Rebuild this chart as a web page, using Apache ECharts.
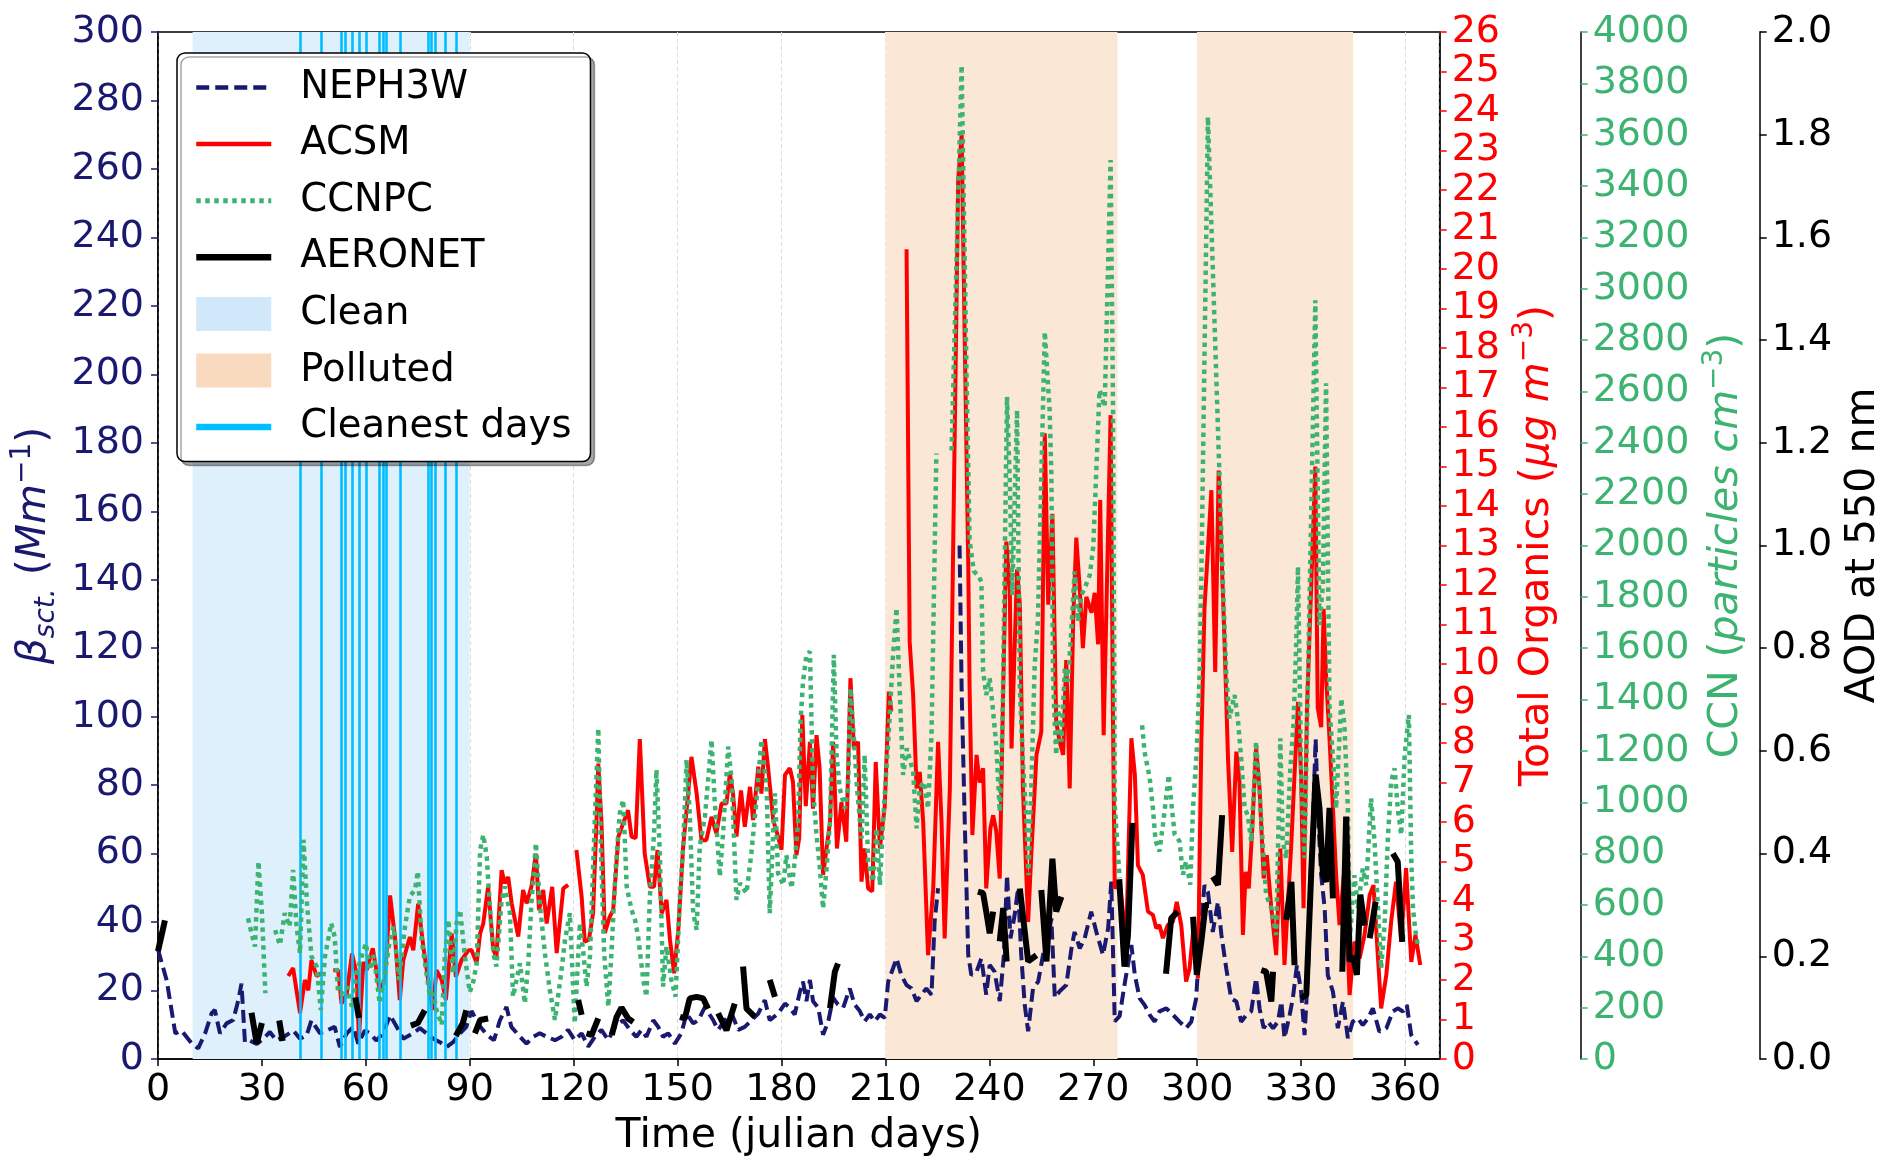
<!DOCTYPE html>
<html>
<head>
<meta charset="utf-8">
<script src="https://cdn.jsdelivr.net/npm/echarts@6/dist/echarts.min.js"></script>
<style>
html,body{margin:0;padding:0;background:#fff;}
#chart{width:1892px;height:1174px;}
</style>
</head>
<body>
<div id="chart"></div>
<script>
// ---------- DATA ----------
// NEPH3W scattering (Mm^-1), [julian day, value]; null = data gap
const nephData = [[0,32],[2.5,23],[5,7.5],[6.8,8.3],[9.7,4.6],[11.6,3.1],[13.6,7.5],[15.5,13.4],[16.4,14.3],[17.9,7.5],[19.8,10.4],[21.7,11.4],[23.2,17.2],[24.1,22],[25.1,4.9],[26.5,5.4],[28.5,4.4],[30.4,5.9],[32.3,7.9],[34.2,5.4],[36.2,6.4],[39.1,8.3],[41,5.9],[42.9,6.9],[44.3,11.3],[46.8,7.5],[48.7,8.3],[51,9.4],[52.5,3.5],[54.5,7.5],[56.4,9.4],[57.8,4.5],[59.7,8.3],[61.2,7.5],[63,5.4],[65,7.5],[67,12.8],[68.9,9.4],[70.8,5.9],[73.7,7.5],[75.6,9],[77.5,7.5],[79.5,5.9],[81.4,4.9],[83.3,3.5],[85.2,4.9],[87.2,7.5],[89,9.4],[90.5,14],[93,9.5],[95,7],[97,5.5],[98.7,11.3],[100.6,15.2],[102,9.4],[104.5,6.5],[106.4,4.5],[108.3,6.5],[110.2,7.5],[112.2,6.5],[114.6,5.5],[116.5,6.5],[118.4,8.5],[120.3,5.5],[122.3,7.5],[124.2,3.6],[126.1,6.5],[128,8.5],[130,5.5],[131.9,9.4],[134.3,11.3],[136.2,8.5],[138.1,6.5],[139.6,8.5],[141,6.5],[143,11.3],[144.4,9.4],[145.8,6.5],[147.3,7.5],[149.2,4.5],[151.1,7.5],[152.6,13.3],[154.5,10.4],[156,11.3],[157.9,15.2],[160.3,11.3],[161.7,8.5],[163.6,11.3],[165.6,13.3],[167.5,8.5],[169.4,9.4],[171.3,11.3],[173.3,13.3],[175.2,17.2],[176.6,11.3],[179,13.3],[181,16.2],[182.4,15],[183.8,13],[185.3,19.6],[186.2,22.6],[187.2,16.9],[188.2,23.1],[189.1,16.9],[190.6,15],[192,7.1],[193.5,11],[194.9,17.9],[196.3,15.9],[197.8,15],[199.7,20.6],[201.1,15.9],[202.6,14],[204,11],[205.5,13],[206.9,11],[208.4,13],[209.8,12],[210.8,22.6],[212.2,26.5],[213.2,29.4],[214.6,24.5],[216.1,21.6],[217.5,20.6],[219,16.9],[220.4,18.8],[221.8,20.6],[223.3,18.8],[224.2,40.1],[225.2,49.9],null,[231.4,150],[232,108],[232.9,69.3],[233.9,30.4],[234.8,24.5],[236.3,25.5],[237.7,29.4],[239.1,18.8],[240.1,27.5],[241.5,25.5],[243,16.9],[244.2,30.4],[245.1,53.7],[246.1,35.2],[247.3,42],[248.3,49.9],[249.2,30.4],[250.2,15.9],[251.2,8.1],[252.6,20.6],[254.1,22.6],[255.5,30.4],[256.9,35.2],[257.9,41.1],[258.9,17.9],[260.3,19.8],[262.2,21.6],[263.7,32.3],[264.6,37.1],[266.1,32.3],[267.5,35.2],[269.4,43],[270.9,37.1],[272.8,30.4],[274.3,38.2],[275.2,51.8],[276.2,11],[277.6,12.5],[279,21.6],[281,33.3],[282,24.5],[283.4,17.7],[284.8,15.8],[286.3,12.9],[287.7,10.9],[289.1,13.9],[291.1,14.8],[293,12.9],[294.9,10.9],[296.8,9],[298.3,10.9],[299.7,17.7],[300.7,34.3],[302.1,50.8],[303.1,48.8],[304.5,37.1],[306,45.9],[307,36.2],[308.4,26.4],[309.8,17.7],[311.3,16.8],[312.7,10.9],[314.2,12.9],[315.6,13.9],[317,23.6],[318,14.8],[319.2,9],[320.4,10.9],[321.9,9],[323.3,10.9],[324.3,16.8],[325.2,6.1],[326.7,12.9],[327.6,17.7],[328.8,27.4],[330,19.6],[331,7],[332,25.5],[332.9,53.7],[334.2,93.5],[334.8,73.1],[335.8,53.7],[336.8,44],[337.7,24.5],[339.2,19.6],[340.6,9],[342.1,16.8],[343.5,6.1],[344.9,10.9],[346.4,11.9],[347.8,9.9],[349.3,11.9],[350.7,14.8],[352.6,8],[354.6,9],[356.5,13.9],[357.9,14.8],[359.4,13.9],[360.5,15.8],[361.8,7],[363.7,4.1]];

// ACSM total organics (ug m^-3)
const acsmData = [[37.6,2.1],[39,2.3],[41,1.16],[42.4,2.0],[43.4,1.74],[44.3,2.5],[45.8,2.1],[47.2,2.17],null,[50.6,2.25],[52,2.25],[53,1.4],[54.5,1.66],[56,2.67],[57.3,2.17],[58,0.52],[59.3,2.46],[60.2,2.25],[62,2.8],[64,1.74],[65.5,2.0],[67,4.14],[68.4,3.09],[69.8,1.49],[70.8,2.5],[72.7,3.09],[73.7,2.75],[75.1,3.93],[76.6,2.84],[78,2.0],[79.3,1.24],[80.4,2.25],[81.9,2.0],[83.1,1.49],[84.8,3.17],[86,2.08],[87.6,2.5],[89.6,2.75],[90.5,2.76],[92,2.43],[93,3.18],[93.9,3.43],[95.3,4.36],[96.8,2.76],[97.7,2.59],[99.2,4.78],[100.1,4.45],[101.1,4.61],[102.1,3.94],[104,3.1],[105.4,4.28],[106.4,3.94],[107.8,4.36],[109.1,5.2],[110,3.77],[111.2,4.28],[112.2,3.43],[113.8,4.36],[115.1,2.68],[117,4.32],[118.4,4.41],null,[120.8,5.29],[122.3,4.11],[123.2,2.97],[124.4,3.02],[125.6,3.69],[126.6,6.05],[127.1,7.48],[128,6.05],[129,3.19],[130.4,3.6],[131.4,3.77],[132.9,5.63],[134.3,5.97],[135.7,6.3],[136.7,5.63],[137.9,5.59],[139.1,8.1],[140.5,5.2],[142,4.36],[143.2,4.36],[144.2,5.29],[145.4,3.69],[146.8,4.03],[147.8,3.02],[149,2.17],[150.2,3.27],[151.6,5.37],[152.6,6.3],[154,7.65],[155.5,6.72],[156.9,5.54],[158.3,5.54],[159.8,6.13],[161.2,5.71],[162.7,6.47],[164.1,6.47],[165.1,7.23],[166,6.72],[167,5.63],[168.3,6.8],[169.4,5.88],[170.9,6.89],[171.8,6.05],[173.3,7.4],[174.2,6.72],[175.2,8.1],[176.1,7.4],[177.6,6.05],[179,5.63],[180,5.3],[181,7.19],[182.4,7.36],[183.3,7.02],[184.3,5.16],[185.1,5.59],[186,8.71],[187,6.4],[188.2,8.03],[189.1,6.34],[190.1,8.2],[191,7.36],[192,4.66],[193,5.33],[194,6.0],[194.9,8.03],[196,5.33],[197.3,6.5],[198.7,5.5],[199.9,9.64],[200.9,7.86],[202.1,8.03],[203.1,4.49],[204,5.33],[205,4.32],[206.2,4.24],[207.2,7.52],[208.4,5.33],[209.8,6.4],[211,9.3],[211.7,8.8],null,[216.1,20.5],[217,10.56],[218,9.21],[219,6.85],[219.9,7.27],[220.9,6.0],[222.3,2.63],[223.8,4.32],[225.2,8.03],[226.2,6.0],[227.1,3.05],[228.6,6.85],[231,22.25],[232,23.4],[232.9,18.2],[233.9,12.6],[234.3,9.38],[235.1,5.67],[236.3,7.7],[237.2,7.0],[238.2,7.36],[239.1,4.32],[240.3,5.84],[241.1,6.17],[242,5.76],[243,4.57],[244,9.38],[244.9,13.1],[245.9,11.9],[246.4,7.86],[248,12.4],[248.8,11.5],[249.7,6.85],[251.2,3.47],[252.1,5.16],[253.6,7.7],[255,8.29],[256,15.84],[257,11.5],[258.2,13.8],[259.3,8.54],[260.3,8.03],[261.3,7.7],[262.2,10.1],[263.2,6.85],[264.2,11.1],[265.1,13.2],[266.1,11.9],[267,10.4],[268,11.7],[269.5,11.3],[270.4,11.8],[271.4,10.5],[272,14.15],[273,8.2],[275,16.3],[275.7,8.54],[276.2,4.32],[277.6,4.49],[279.5,3.0],[281,8.12],[282,7.2],[282.9,4.9],[284.3,4.66],[285.8,3.73],[287.2,3.65],[288.2,3.31],[289.1,3.39],[290.1,3.06],[291.5,3.39],[293,3.48],[294.1,3.98],[295.4,3.39],[296.8,1.96],[297.8,2.29],[299,3.39],[300.2,2.04],[301.2,8.03],[302.1,11.4],[304.1,14.4],[305.2,9.8],[306.2,14.9],[307.9,10.56],[308.9,7.6],[310.1,5.24],[311.3,7.78],[312.2,7.02],[313.2,3.14],[314,4.74],[314.9,4.32],[315.9,5.84],[317,7.87],[318,6.85],[319.2,4.57],[320.1,5.16],[321.4,3.82],[322.8,2.63],[324,5.33],[325.2,2.38],[326.2,3.98],[327.1,5.33],[328.1,7.19],[329.1,9.04],[330,7.19],[330.7,3.82],[331.7,8.88],[334.1,15.0],[334.8,8.88],[335.8,8.4],[336.5,11.4],[337.2,9.7],[338,8.45],[339.2,6.34],[340.1,4.66],[341.1,3.39],[342.5,4.83],[344,1.62],[345.4,2.97],[346.9,2.55],[348.3,3.14],[349.8,4.15],[350.9,4.4],[351.9,2.97],[353.1,1.28],[354.6,2.13],[356,3.48],[357.4,4.49],[358.9,2.97],[360.3,4.83],[361.8,2.46],[363,3.14],[364.4,2.38]];

// CCNPC (particles cm^-3)
const ccnData = [[26,548],[27,490],[28,438],[29,769],[30,568],[31,256],null,[33.8,502],[35.2,444],[36.6,568],[38,516],[39,737],[40,516],[41,412],[42,854],[43,607],[44.3,399],[45.8,360],[47,191],[48.2,399],[50,529],[51,477],[52,256],[53,256],[54.5,282],[56,204],[57.3,334],[58.8,399],[60,451],[61.2,347],[62.3,405],[64,217],[65.5,334],[66.8,451],[68,516],[69.6,308],[71.3,516],[72.7,633],[74.2,659],[75,731],[76.1,464],[77.5,334],[78.5,243],[79.5,256],[80.4,191],[81.9,133],[82.8,399],[83.8,542],[85.2,334],[86.2,529],[87.2,581],[88.6,399],[90,260],[91,300],[92,373],[93,815],[93.9,873],[94.9,789],[95.8,594],[96.8,412],[97.7,360],[99.2,620],[100.1,672],[101.6,568],[102.5,243],[103.5,308],[104.5,373],[105.9,217],[106.9,373],[107.8,607],[109.1,841],[110.2,607],[111.7,412],[113.1,269],[114.6,152],[116.5,347],[117.5,464],[118.9,568],[120.3,139],[121.8,529],[122.8,412],[123.7,282],[124.7,399],[126.1,931],[127.1,1288],[127.9,802],[128.8,412],[130,204],[130.9,412],[132.1,737],[133.3,957],[134.3,1009],[135.3,672],[136.7,581],[137.7,542],[138.6,477],[140.1,308],[141,243],[142,633],[143.2,880],[143.9,1126],[144.9,789],[145.8,282],[146.8,438],[148.2,308],[149.4,243],[150.6,607],[151.6,828],[152.6,1165],[153.5,957],[154.5,568],[155.5,503],[156.4,828],[157.9,945],[159.8,1243],[160.7,1009],[162.2,711],[163.2,893],[164.6,1217],[165.6,1087],[167,620],[168,685],[169.9,646],[171.3,802],[172.8,1009],[174.2,1243],[175.7,1061],[176.6,568],[178.1,1035],[179,724],[180.5,678],[181.4,794],[182.9,665],[183.8,769],[184.8,924],[185.5,1313],[186.2,1469],[187.2,1574],[188.2,1587],[189.1,1054],[190.1,872],[191,755],[192,586],[193,742],[194,924],[195.1,1574],[195.9,1184],[196.8,1054],[198.3,976],[199.2,1054],[199.9,1443],[200.9,1249],[201.8,1054],[203.1,859],[204,1184],[205,769],[206.4,690],[207.4,898],[208.4,678],[209.3,924],[210.8,1236],[212.2,1574],[213.2,1756],[213.9,1509],[215.1,1106],[216.2,1210],[218,1119],[219,898],[219.9,1054],[221.1,1080],[222.3,976],[223.3,1262],[224.7,2358],null,[229.1,2370],[232,3870],[233.4,2671],[234.3,2021],[235.5,1900],[237,1880],[237.7,1857],[238.2,1509],[239.1,1418],[240.1,1483],[241,1366],[242,1223],[243,963],[243.8,1313],[245.1,2579],[245.9,2254],[246.6,1807],[248,2527],[248.8,1443],[249.7,1158],[250.7,924],[251.3,716],[252.1,1054],[253.1,1535],[254,1704],[256,2832],[257.4,2527],[257.9,2280],[258.4,1469],[259.3,1184],[259.8,1379],[260.8,1236],[261.8,1522],[262.7,1469],[263.7,1678],[264.6,1899],[265.6,1704],[266.6,1808],[267.5,1833],[269,1885],[270,1995],[271.8,2605],[273.3,2540],[275,3501],[275.7,2540],[276.2,987],[277.6,704],null,[284.1,1300],[284.8,1197],[286.3,1093],[287.2,978],[288,848],[289.1,808],[290.1,912],[291.8,1106],[292.5,1003],[293.5,874],[294.9,848],[295.9,718],[296.8,770],[298,679],[298.8,978],[299.9,1210],[300.7,1495],[301.2,1878],[303.1,3669],[307.4,1865],[308.4,1495],[309.3,1327],[310.8,1418],[311.8,1314],[312.7,1171],[313.7,976],[314.6,950],[315.6,847],[317,1236],[318,1041],[319,821],[319.9,639],[321.4,587],[322.8,483],[324,1249],[324.7,847],[325.7,782],[326.9,1132],[327.8,1301],[328.6,1625],[329.1,1917],[330,1114],[331,782],[332,1495],[334.1,2955],[335.3,1690],[336.3,1846],[337.2,2632],[338.2,1366],[339.2,1171],[340.1,976],[341.6,1404],[342.5,1301],[343.5,976],[344,456],[345.4,716],[346.4,587],[347.8,742],[348.8,677],[350.2,1015],[351.2,847],[352.2,587],[353.1,353],[354.1,522],[355,847],[356,1080],[357,1132],[357.9,976],[358.9,873],[359.9,1184],[361.1,1340],[361.8,782],[362.3,587],[363,496],[363.7,444]];

// AERONET AOD at 550 nm, separate segments
const aeronetSegments = [
 [[0,0.21],[1,0.24],[2,0.27]],
 [[27,0.09],[28.5,0.03],[30,0.07]],
 [[35,0.075],[36,0.035]],
 [[57,0.12],[58,0.08]],
 [[73,0.065],[75,0.07],[77,0.095]],
 [[86,0.045],[88,0.07],[89,0.095]],
 [[91.5,0.05],[93,0.076],[95.3,0.079]],
 [[121.3,0.115],[122.3,0.086]],
 [[123.7,0.05],[125.2,0.047],[127.1,0.079]],
 [[131,0.047],[132.4,0.082],[133.8,0.1],[135.7,0.079],[137.2,0.072]],
 [[150.7,0.082],[152.1,0.079],[153.5,0.118],[155.5,0.121],[157.4,0.118],[158.8,0.098]],
 [[161.7,0.089],[164.1,0.056],[166.5,0.108]],
 [[168.9,0.18],[169.9,0.098],[172.3,0.082]],
 [[176.6,0.154],[178.1,0.121]],
 [[194,0.099],[195.4,0.17],[196.3,0.186]],
 [[236.7,0.326],[238.2,0.323],[239.1,0.287],[240.1,0.245],[241.1,0.287]],
 [[243,0.229],[244,0.294],[245,0.19]],
 [[248.8,0.332],[251.2,0.19],[253.6,0.202]],
 [[255,0.329],[256.5,0.19],[258.2,0.39],[259.3,0.287],[260.8,0.316]],
 [[277.5,0.35],[279,0.18],[280,0.24],[281.3,0.46]],
 [[291,0.166],[292.5,0.274],[294.4,0.287]],
 [[298.8,0.277],[299.9,0.164],[301.2,0.229],[302.4,0.3],[303.4,0.3]],
 [[304.5,0.355],[306,0.339],[307.2,0.475]],
 [[318.5,0.173],[319.9,0.17],[321.4,0.112],[321.9,0.17]],
 [[325.7,0.271],[327.2,0.345],[328.1,0.183]],
 [[330,0.118],[331.5,0.125],[332.9,0.359],[334.2,0.554],[335.3,0.489],[336.3,0.359],[337.2,0.345],[338.2,0.489],[339.2,0.313]],
 [[341.9,0.17],[343,0.472],[344,0.19],[345,0.2],[346.1,0.164],[347.1,0.32],[348.3,0.26]],
 [[349.8,0.235],[351.5,0.306]],
 [[356.5,0.4],[357.9,0.384],[359.2,0.228]]
];

const cleanestDays = [41,47,53,54,56,58,60,64,65,66,70,78,79,80,83,86];
const cleanPeriods = [[10,90]];
const pollutedPeriods = [[210,277],[300,345]];

const xTicks = {min:0, max:370, interval:30};
const nephTicks = {min:0, max:300, interval:20};
const orgTicks = {min:0, max:26, interval:1};
const ccnTicks = {min:0, max:4000, interval:200};
const aodTicks = {min:0, max:2, interval:0.2};

// ---------- helpers ----------
function withGaps(arr){
  const out=[]; let last=0;
  arr.forEach(p=>{ if(p===null){ out.push([last,'-']); } else { out.push(p); last=p[0]; } });
  return out;
}
const aeronetData=[];
aeronetSegments.forEach((seg,i)=>{ if(i>0) aeronetData.push([seg[0][0],'-']); seg.forEach(p=>aeronetData.push(p)); });

const FONT='DejaVu Sans';
const NAVY='#191970', RED='#ff0000', GREEN='#3cb371', SKY='#00bfff';
const FS=38;    // tick labels
const TFS=41;   // axis titles
const LFS=38.5; // legend

function yAxisBase(t, color, position, offset){
  return {
    type:'value', position:position, offset:offset,
    min:t.min, max:t.max, interval:t.interval,
    axisLine:{show:true, onZero:false, lineStyle:{color:'#000', width:1.5}},
    axisTick:{show:true, inside:false, length:7, lineStyle:{color:color, width:1.5}},
    axisLabel:{color:color, fontSize:FS, fontFamily:FONT, margin:12, formatter:v=>String(v)},
    splitLine:{show:false},
    nameLocation:'middle', nameRotate:90
  };
}
function richSet(color){
  return {
    n:{color:color,fontSize:TFS,fontFamily:FONT,lineHeight:52},
    it:{color:color,fontSize:TFS,fontFamily:FONT,fontStyle:'italic',lineHeight:52},
    sub:{color:color,fontSize:28,fontFamily:FONT,fontStyle:'italic',verticalAlign:'bottom',lineHeight:52},
    sup:{color:color,fontSize:28,fontFamily:FONT,verticalAlign:'top',lineHeight:52}
  };
}

const yLeft = yAxisBase(nephTicks, NAVY, 'left', 0);
yLeft.axisLabel.margin=14;
yLeft.name='{it|β}{sub|sct.}{n| (}{it|Mm}{sup|−1}{n|)}';
yLeft.nameGap=76;
yLeft.nameTextStyle={color:NAVY, fontFamily:FONT, fontSize:TFS, rich:richSet(NAVY)};

const yOrg = yAxisBase(orgTicks, RED, 'right', 0);
yOrg.name='{n|Total Organics (}{it|μg m}{sup|−3}{n|)}';
yOrg.nameGap=70;
yOrg.nameTextStyle={color:RED,fontFamily:FONT,fontSize:TFS, rich:richSet(RED)};

const yCcn = yAxisBase(ccnTicks, GREEN, 'right', 141);
yCcn.name='{n|CCN (}{it|particles cm}{sup|−3}{n|)}';
yCcn.nameGap=106;
yCcn.nameTextStyle={color:GREEN,fontFamily:FONT,fontSize:TFS, rich:richSet(GREEN)};

const yAod = yAxisBase(aodTicks, '#000', 'right', 320);
yAod.axisLabel.formatter=v=>v.toFixed(1);
yAod.name='AOD at 550 nm';
yAod.nameGap=78;
yAod.nameTextStyle={color:'#000',fontFamily:FONT,fontSize:TFS};

const hideSym = {opacity:0};

const chart = echarts.init(document.getElementById('chart'), null, {renderer:'canvas'});
const option = {
  animation:false,
  backgroundColor:'#fff',
  textStyle:{fontFamily:FONT},
  grid:{left:158, right:451, top:32, bottom:115, show:true, borderColor:'#000', borderWidth:1.5, backgroundColor:'transparent'},
  legend:{
    z:100, zlevel:1,
    orient:'vertical', left:177, top:53,
    itemWidth:75, itemHeight:34, itemGap:17.6,
    padding:[15,19,15,16],
    backgroundColor:'#fff', borderColor:'#000', borderWidth:1.5, borderRadius:8,
    shadowColor:'rgba(0,0,0,0.35)', shadowOffsetX:4, shadowOffsetY:4, shadowBlur:0,
    formatter: name => '{p| }' + name,
    textStyle:{fontSize:LFS, fontFamily:FONT, color:'#000', lineHeight:34,
      rich:{p:{width:24, fontSize:LFS, lineHeight:34}}},
    data:[
      {name:'NEPH3W', itemStyle:hideSym, lineStyle:{width:4.5}},
      {name:'ACSM', itemStyle:hideSym, lineStyle:{width:4.5}},
      {name:'CCNPC', itemStyle:hideSym, lineStyle:{width:5}},
      {name:'AERONET', itemStyle:hideSym, lineStyle:{width:6.5}},
      {name:'Clean', icon:'rect', itemStyle:{color:'#d0e8fa'}},
      {name:'Polluted', icon:'rect', itemStyle:{color:'#f9dabe'}},
      {name:'Cleanest days', itemStyle:hideSym, lineStyle:{width:6.5}}
    ],
    selectedMode:false
  },
  xAxis:{
    type:'value', min:xTicks.min, max:xTicks.max, interval:xTicks.interval,
    name:'Time (julian days)', nameLocation:'middle', nameGap:57,
    nameTextStyle:{color:'#000', fontSize:TFS, fontFamily:FONT},
    axisLine:{show:true, onZero:false, lineStyle:{color:'#000', width:1.5}},
    axisTick:{show:true, inside:false, length:7, lineStyle:{color:'#000', width:1.5}},
    axisLabel:{color:'#000', fontSize:FS, fontFamily:FONT, margin:12, showMaxLabel:false},
    splitLine:{show:true, lineStyle:{color:'#dcdcdc', type:[4,3], width:1}}
  },
  yAxis:[yLeft, yOrg, yCcn, yAod],
  series:[
    {name:'Clean', type:'line', data:[], yAxisIndex:0, z:1, silent:true,
      itemStyle:{color:'#d0e8fa'}, lineStyle:{color:'#d0e8fa'},
      markArea:{silent:true, itemStyle:{color:'#dff0fd'},
        data:cleanPeriods.map(p=>[{xAxis:p[0]},{xAxis:p[1]}])}},
    {name:'Polluted', type:'line', data:[], yAxisIndex:0, z:1, silent:true,
      itemStyle:{color:'#f9dabe'}, lineStyle:{color:'#f9dabe'},
      markArea:{silent:true, itemStyle:{color:'#fbe7d6'},
        data:pollutedPeriods.map(p=>[{xAxis:p[0]},{xAxis:p[1]}])}},
    {name:'Cleanest days', type:'line', data:[], yAxisIndex:0, z:2, silent:true,
      itemStyle:{color:SKY}, lineStyle:{color:SKY, width:6},
      markLine:{silent:true, symbol:['none','none'], label:{show:false},
        lineStyle:{color:SKY, width:2.6, type:'solid'},
        data:cleanestDays.map(d=>({xAxis:d}))}},
    {name:'NEPH3W', type:'line', yAxisIndex:0, z:3, showSymbol:false,
      connectNulls:false, data:withGaps(nephData),
      itemStyle:{color:NAVY}, lineStyle:{color:NAVY, width:4, type:[13,6]}},
    {name:'ACSM', type:'line', yAxisIndex:1, z:4, showSymbol:false,
      connectNulls:false, data:withGaps(acsmData),
      itemStyle:{color:RED}, lineStyle:{color:RED, width:4}},
    {name:'CCNPC', type:'line', yAxisIndex:2, z:5, showSymbol:false,
      connectNulls:false, data:withGaps(ccnData),
      itemStyle:{color:GREEN}, lineStyle:{color:GREEN, width:4.5, type:[4.5,4.5], cap:'butt'}},
    {name:'AERONET', type:'line', yAxisIndex:3, z:6, showSymbol:false,
      connectNulls:false, data:aeronetData,
      itemStyle:{color:'#000'}, lineStyle:{color:'#000', width:6}}
  ]
};
chart.setOption(option);
</script>
</body>
</html>
